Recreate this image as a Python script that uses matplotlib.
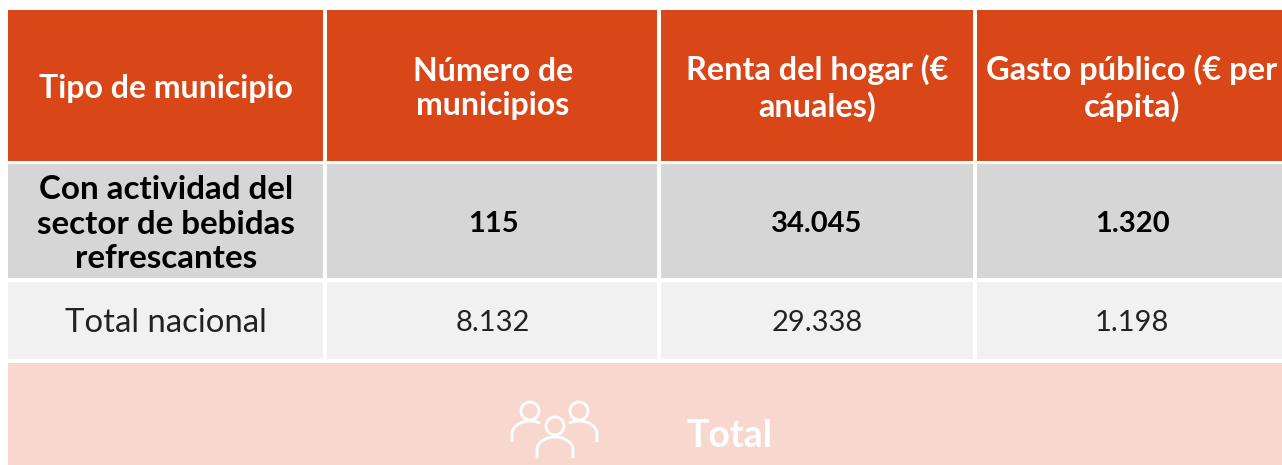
import matplotlib
matplotlib.use("Agg")
from matplotlib import pyplot as plt
from matplotlib.patches import Rectangle, Circle
import numpy as np

plt.rcParams['font.family'] = ['Lato', 'DejaVu Sans']

headers = ["Tipo de municipio", "Número de\nmunicipios", "Renta del hogar (€\nanuales)", "Gasto público (€ per\ncápita)"]
row_sector = ["Con actividad del\nsector de bebidas\nrefrescantes", "115", "34.045", "1.320"]
row_total = ["Total nacional", "8.132", "29.338", "1.198"]
footer = "Total"

ORANGE = "#d94617"
GREY = "#d6d6d6"
LIGHT = "#f1f1f1"
PINK = "#f8d8ce"

col_x = [(8, 323), (327, 657), (661, 973), (977, 1282)]
row_y = [(10, 161), (164, 278), (282, 359)]
col_tx = [166, 493, 817, 1132]

fig = plt.figure(figsize=(12.82, 4.65), dpi=100)
ax = fig.add_axes([0, 0, 1, 1])
ax.set_xlim(0, 1282)
ax.set_ylim(465, 0)
ax.axis("off")

rows = [(headers, ORANGE, "white", "bold", [23, 23, 23.3, 23.5], 1.24, 3),
        (row_sector, GREY, "black", "bold", [23.9, 21, 21, 21], 1.21, 3),
        (row_total, LIGHT, "#222222", "normal", [23.7, 21, 21, 21], 1.2, 2)]

for (vals, bg, fg, weight, sizes, spacing, dy), (y0, y1) in zip(rows, row_y):
    for val, size, (x0, x1), tx in zip(vals, sizes, col_x, col_tx):
        ax.add_patch(Rectangle((x0, y0), x1 - x0, y1 - y0, fc=bg, ec="none"))
        ax.text(tx, (y0 + y1) / 2 + dy, val, ha="center", va="center", color=fg,
                fontweight=weight, fontsize=size, linespacing=spacing)

# footer band
ax.add_patch(Rectangle((8, 363), 1274, 102, fc=PINK, ec="none"))
ax.text(730, 436, footer, ha="center", va="center", color="white", fontweight="bold", fontsize=27)

# people icon
def person(cx, cy, sx, sy, half, left=True, right=True):
    ax.add_patch(Circle((cx, cy), 9, fc="none", ec="white", lw=2))
    t = np.linspace(np.pi if left else np.pi / 2 + 0.6, 0 if right else np.pi / 2 - 0.6, 40)
    xs = sx + half * np.cos(t)
    ys = sy + 9 - 13 * np.sin(t)
    xs = np.concatenate([[xs[0]] if left else [], xs, [xs[-1]] if right else []])
    ys = np.concatenate([[ys[0] + 8] if left else [], ys, [ys[-1] + 8] if right else []])
    ax.plot(xs, ys, color="white", lw=2, solid_capstyle="butt")

person(530, 411, 530, 425, 18, right=False)
person(579, 411, 579, 425, 18, left=False)
person(555, 426, 555, 441, 18)

fig.savefig("out.png", dpi=100)
